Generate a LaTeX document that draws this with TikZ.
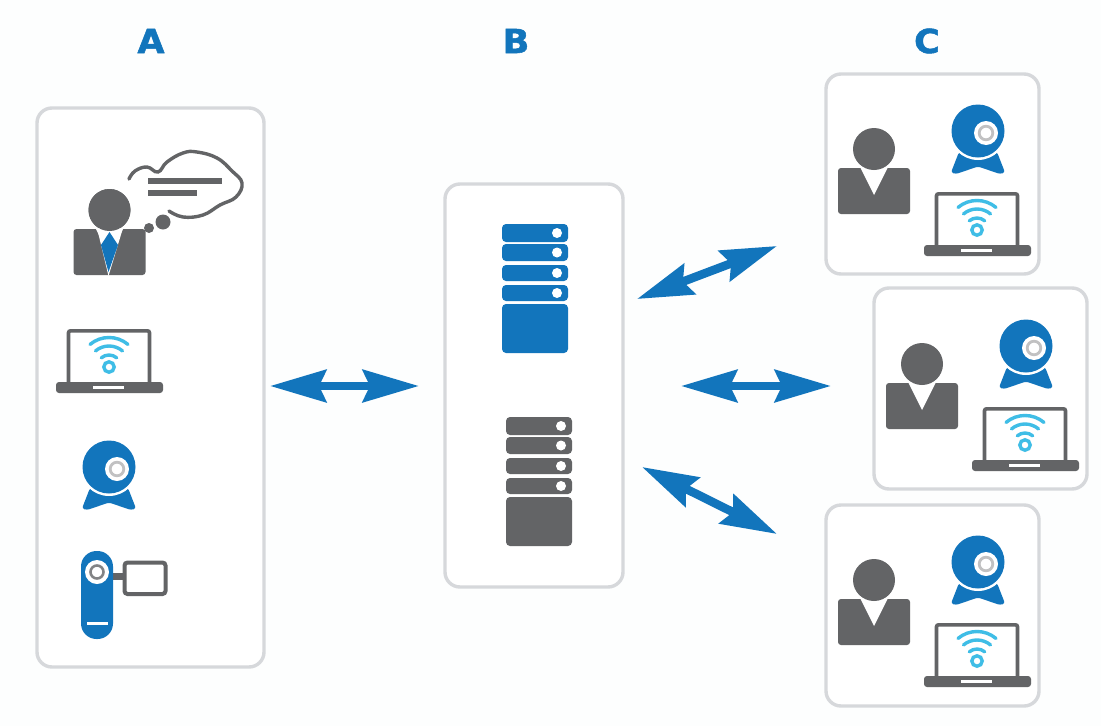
\documentclass[tikz,border=0pt]{standalone}
\usepackage{fontspec}
\setmainfont{DejaVu Sans}
\newfontfamily\headfont[BoldFeatures={FakeBold=1.6,FakeStretch=1.06}]{DejaVu Sans}
\usetikzlibrary{arrows.meta}
\definecolor{ablue}{HTML}{1275BC}
\definecolor{agrey}{HTML}{636466}
\definecolor{acyan}{HTML}{3FBDE6}
\definecolor{apanel}{HTML}{D6D8DB}
\definecolor{apage}{HTML}{FDFEFE}
\tikzset{
  panel/.style={draw=apanel,line width=3.4pt,rounded corners=15pt,fill=white,inner sep=0pt,minimum width=#1},
  heading/.style={font=\headfont\bfseries\fontsize{33}{33}\selectfont,text=ablue,inner sep=0pt},
  twoway/.style={draw=ablue,line width=8.6pt,{Stealth[length=56pt,width=32pt,inset=7pt]}-{Stealth[length=56pt,width=32pt,inset=7pt]}},
  wifi/.style={draw=acyan,line width=3.4pt,line cap=round},
  laptop/.pic={
    \draw[agrey,line width=3.6pt,rounded corners=2pt,fill=white] (12.5,55)--(12.5,1.8)--(93.5,1.8)--(93.5,55);
    \fill[agrey,rounded corners=3pt] (0,53) rectangle (107,64);
    \fill[white] (37,56.5) rectangle (68,59.5);
    \draw[wifi] (53,38) circle[radius=5.2];
    \foreach \r in {12,21,29.5}{\draw[wifi] (53,38) ++(230:\r) arc[start angle=230,end angle=310,radius=\r];}
  },
  webcam/.pic={
    \fill[ablue,rounded corners=2.5pt] (-19,21)--(-27,41.5)--(-22,43)--(0,35.5)--(22,43)--(27,41.5)--(19,21)--cycle;
    \fill[white] (0,0) circle[radius=29];
    \fill[ablue] (0,0) circle[radius=26.5];
    \fill[white] (8,2) circle[radius=12];
    \draw[agrey!40,line width=2.8pt,fill=white] (8,2) circle[radius=6.8];
  },
  person/.pic={
    \fill[agrey,rounded corners=3pt] (-36,19) rectangle (36,65);
    \fill[white] (-14,18) -- (0,46) -- (14,18) -- cycle;
    \fill[agrey] (0,0) circle[radius=21];
  },
  server/.pic={
    \foreach \ya/\yb in {0/18,20/37,41/57,61/77}{
      \fill[#1,rounded corners=4pt] (0,\ya) rectangle (66,\yb);
      \fill[white] (55,{(\ya+\yb)/2}) circle[radius=5];
    }
    \fill[#1,rounded corners=4pt] (0,80) rectangle (66,129);
  }
}
\begin{document}
\begin{tikzpicture}[x=1pt,y=-1pt]
\useasboundingbox (0,0) rectangle (1101,726);
\fill[apage] (0,0) rectangle (1101,726);
% panels
\node[panel=227pt,minimum height=559pt] (pa) at (150.5,387.5) {};
\node[panel=178pt,minimum height=403pt] (pb) at (534,385.5) {};
\node[panel=213pt,minimum height=200pt] (pc1) at (932.5,174) {};
\node[panel=213pt,minimum height=201pt] (pc2) at (980.5,388.5) {};
\node[panel=213pt,minimum height=201pt] (pc3) at (932.5,605.5) {};
% headings
\node[heading] (la) at (151,41) {A};
\node[heading] (lb) at (516,41) {B};
\node[heading] (lc) at (927,41) {C};
% column A: person with thought
\pic at (109.5,210) {person};
\fill[white] (97,228)--(108.5,276)--(123,228)--cycle;
\fill[agrey] (109.5,210) circle[radius=21];
\fill[ablue] (109.5,232)--(118,245)--(108.5,272)--(101,245)--cycle;
\draw[agrey,line width=3.4pt,line cap=round] plot[smooth,tension=0.7] coordinates {(129,179) (135,171) (147,167) (158,172) (167,162) (183,153) (197,152) (217,158) (232,171) (242,183) (236,197) (220,205) (203,215) (183,217) (169,211)};
\fill[agrey] (148,178) rectangle (222,184);
\fill[agrey] (148,189.5) rectangle (197,195.5);
\fill[agrey] (163,222) circle[radius=7.5];
\fill[agrey] (149,228) circle[radius=5];
\pic at (56,329) {laptop};
\pic at (109,467) {webcam};
% camcorder
\draw[agrey,line width=4pt,rounded corners=3pt,fill=white] (124.5,562.5) rectangle (165.5,594);
\fill[agrey] (113,573) rectangle (123,580);
\fill[ablue,rounded corners=15.5pt] (81,551) rectangle (113,639);
\fill[white] (97,572) circle[radius=12];
\draw[agrey!80,line width=2.6pt,fill=white] (97,572) circle[radius=6.5];
\fill[white] (87,621.5) rectangle (108,625);
% column B
\pic at (502,224) {server=ablue};
\pic at (506,417) {server=agrey};
% column C
\foreach \dx/\dy in {0/0,48/215,0/431}{
  \begin{scope}[shift={(\dx,\dy)}]
    \pic at (874,149) {person};
    \pic at (978,131) {webcam};
    \pic at (924,192) {laptop};
  \end{scope}
}
% connectors
\coordinate (a1) at (270,386);
\coordinate (a2) at (419,386);
\coordinate (b1) at (637,299);
\coordinate (b2) at (777,246);
\coordinate (c1) at (681,386);
\coordinate (c2) at (831,386);
\coordinate (d1) at (642,467);
\coordinate (d2) at (777,534);
\draw[twoway] (a1) -- (a2);
\draw[twoway] (b1) -- (b2);
\draw[twoway] (c1) -- (c2);
\draw[twoway] (d1) -- (d2);
\end{tikzpicture}
\end{document}
